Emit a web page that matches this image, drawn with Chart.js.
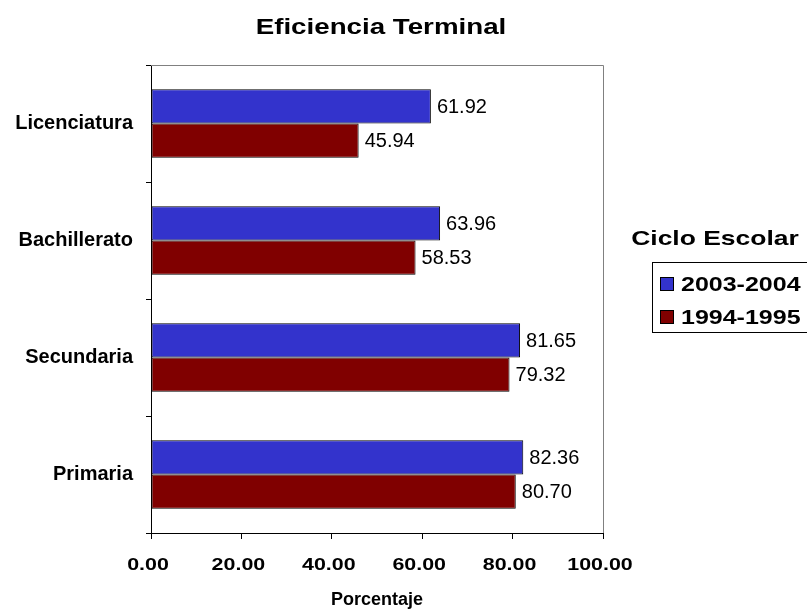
<!DOCTYPE html>
<html>
<head>
<meta charset="utf-8">
<script src="https://cdn.jsdelivr.net/npm/chart.js@4/dist/chart.umd.min.js"></script>
<style>
  html, body { margin: 0; padding: 0; background: #fff; }
  #wrap { width: 807px; height: 613px; }
</style>
</head>
<body>
<div id="wrap"><canvas id="barChart" width="807" height="613"></canvas></div>
<script>
// --- datos ---
const niveles = ['Licenciatura', 'Bachillerato', 'Secundaria', 'Primaria'];
const ciclo2003 = [61.92, 63.96, 81.65, 82.36];
const ciclo1994 = [45.94, 58.53, 79.32, 80.70];
const series = ['2003-2004', '1994-1995'];
const ticksX = [0, 20, 40, 60, 80, 100];

const AZUL = '#3333CC';
const GUINDA = '#800000';
const FONT = 'Arial, "Liberation Sans", sans-serif';

// texto estirado a lo ancho (titulo, leyenda, eje X)
function textoAncho(ctx, txt, cx, cy, size, sx, align) {
    ctx.save();
    ctx.font = 'bold ' + size + 'px ' + FONT;
    ctx.fillStyle = '#000';
    ctx.textBaseline = 'middle';
    ctx.textAlign = 'left';
    const w = ctx.measureText(txt).width * sx;
    let x = cx;
    if (align === 'center') x = cx - w / 2;
    ctx.translate(x, cy);
    ctx.scale(sx, 1);
    ctx.fillText(txt, 0, 0);
    ctx.restore();
}

// marco gris arriba/derecha, etiquetas de valor, titulo y leyenda
const extras = {
    id: 'extras',
    afterDatasetsDraw(chart) {
        const ctx = chart.ctx;
        const a = chart.chartArea;

        ctx.save();
        ctx.strokeStyle = '#808080';
        ctx.lineWidth = 1;
        ctx.beginPath();
        ctx.moveTo(a.left, a.top + 0.5);
        ctx.lineTo(a.right + 0.5, a.top + 0.5);
        ctx.lineTo(a.right + 0.5, a.bottom);
        ctx.stroke();
        ctx.restore();

        // valores al final de cada barra
        ctx.save();
        ctx.font = '20px ' + FONT;
        ctx.fillStyle = '#000';
        ctx.textBaseline = 'middle';
        ctx.textAlign = 'left';
        chart.data.datasets.forEach((ds, i) => {
            chart.getDatasetMeta(i).data.forEach((bar, j) => {
                ctx.fillText(ds.data[j].toFixed(2), bar.x + 6, bar.y + 1);
            });
        });
        ctx.restore();
    },
    afterDraw(chart) {
        const ctx = chart.ctx;
        textoAncho(ctx, 'Eficiencia Terminal', 381, 28, 22, 1.26, 'center');

        // etiquetas del eje X
        const sx = chart.scales.x;
        ticksX.forEach(v => {
            textoAncho(ctx, v.toFixed(2), sx.getPixelForValue(v) - 3, sx.top + 32, 17, 1.26, 'center');
        });

        // leyenda
        textoAncho(ctx, 'Ciclo Escolar', 715, 239, 21, 1.26, 'center');
        ctx.save();
        ctx.strokeStyle = '#000';
        ctx.lineWidth = 1;
        ctx.strokeRect(652.5, 262.5, 200, 70);
        const colores = [AZUL, GUINDA];
        series.forEach((s, i) => {
            const y = 284 + i * 33;
            ctx.fillStyle = colores[i];
            ctx.fillRect(660.5, y - 6.5, 13, 13);
            ctx.strokeRect(660.5, y - 6.5, 13, 13);
            textoAncho(ctx, s, 681, y + 1, 20, 1.25, 'left');
        });
        ctx.restore();
    }
};

const ctx = document.getElementById('barChart').getContext('2d');
const myBarChart = new Chart(ctx, {
    type: 'bar',
    data: {
        labels: niveles,
        datasets: [
            {
                label: series[0],
                data: ciclo2003,
                backgroundColor: AZUL,
                borderColor: '#000',
                borderWidth: 1,
                borderSkipped: false
            },
            {
                label: series[1],
                data: ciclo1994,
                backgroundColor: GUINDA,
                borderColor: '#000',
                borderWidth: 1,
                borderSkipped: false
            }
        ]
    },
    options: {
        indexAxis: 'y',
        responsive: false,
        animation: false,
        categoryPercentage: 0.585,
        barPercentage: 1,
        layout: { padding: { top: 65, right: 204, bottom: 0, left: 0 } },
        scales: {
            x: {
                min: 0,
                max: 100,
                afterFit(scale) { scale.height = 80; },
                afterBuildTicks(scale) { scale.ticks = ticksX.map(v => ({ value: v })); },
                grid: { drawOnChartArea: false, color: '#000', tickLength: 6 },
                border: { color: '#000', width: 1 },
                ticks: { display: false },
                title: {
                    display: true,
                    text: 'Porcentaje',
                    color: '#000',
                    font: { family: FONT, size: 18, weight: 'bold' },
                    padding: { top: 0, bottom: 2 }
                }
            },
            y: {
                afterFit(scale) { scale.width = 151; },
                grid: { drawOnChartArea: false, color: '#000', tickLength: 5, offset: true },
                border: { color: '#000', width: 1 },
                ticks: {
                    color: '#000',
                    font: { family: FONT, size: 20, weight: 'bold' },
                    padding: 13
                }
            }
        },
        plugins: {
            legend: { display: false },
            title: { display: false },
            tooltip: { enabled: false }
        }
    },
    plugins: [extras]
});
</script>
</body>
</html>
